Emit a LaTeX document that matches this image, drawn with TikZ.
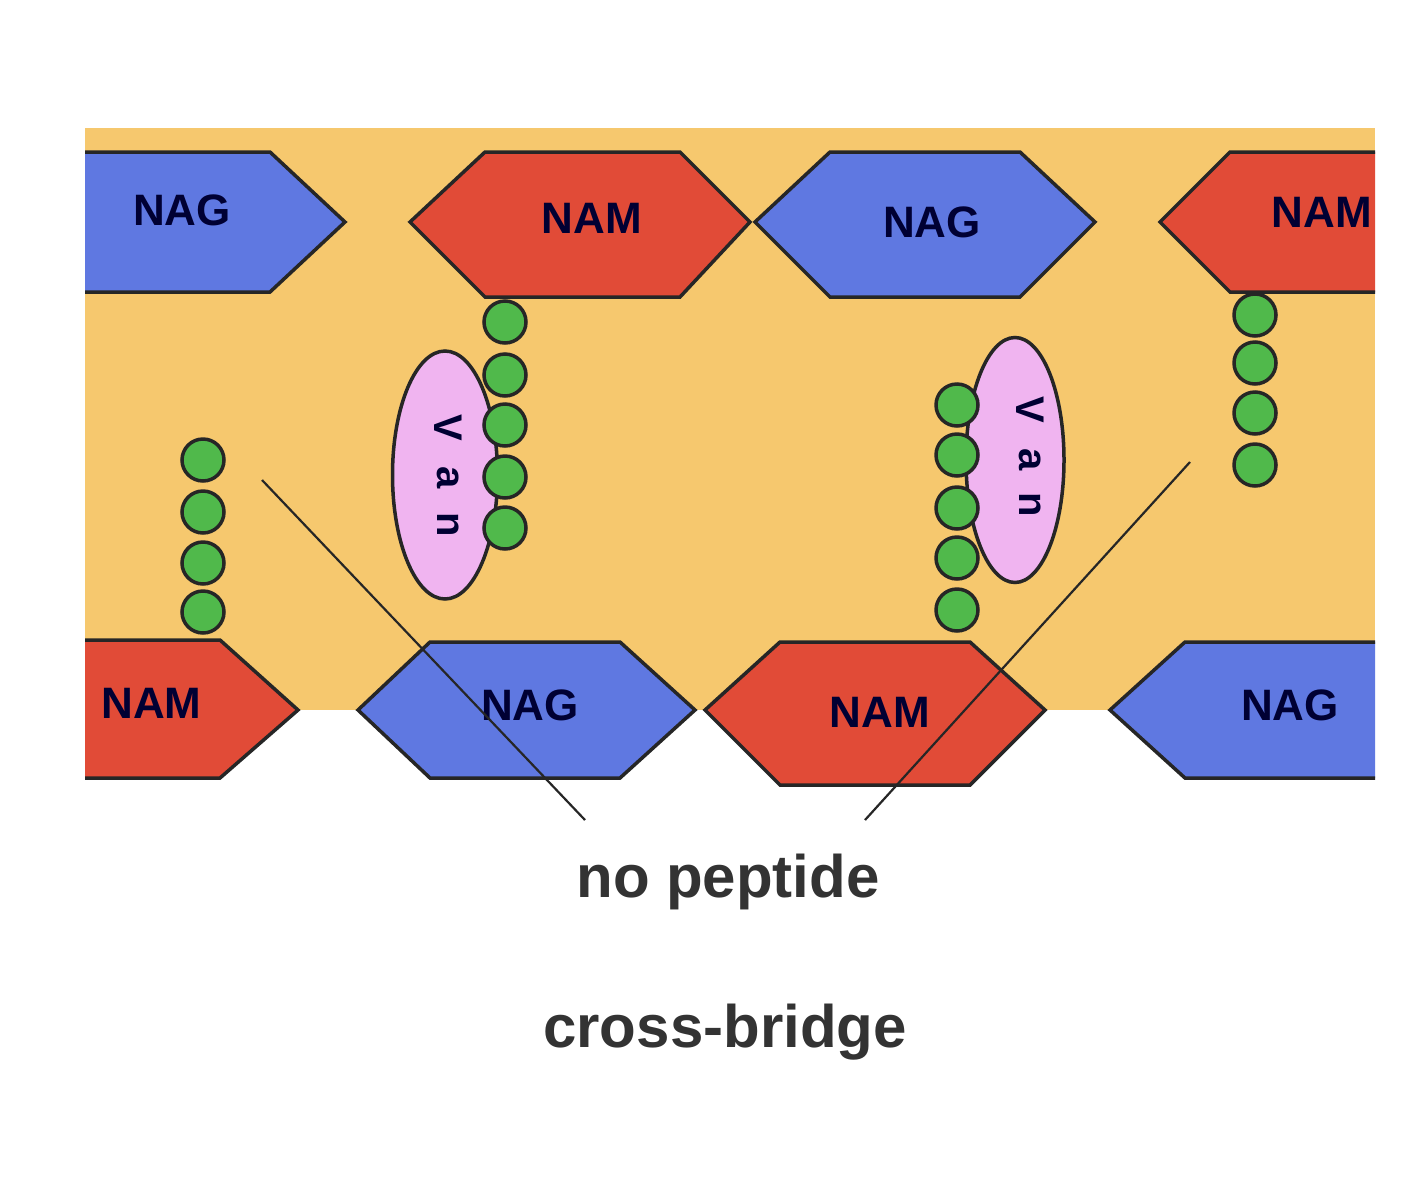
\documentclass[tikz,border=0pt]{standalone}
\usepackage{fontspec}
\usetikzlibrary{shapes.geometric}
\setmainfont{Liberation Sans}
\begin{document}
\begin{tikzpicture}[x=1pt,y=-1pt,
  hexb/.style={draw=black!85, line width=3.5pt},
  hexr/.style={draw=black!85, line width=3.5pt},
  lab/.style={font=\bfseries\fontsize{44}{50}\selectfont, text=black!80!blue},
  bead/.style={circle, draw=black!85, line width=3.5pt, minimum size=42pt, inner sep=0pt},
  van/.style={ellipse, draw=black!85, line width=3.5pt},
  big/.style={font=\bfseries\fontsize{60}{70}\selectfont, text=black!80}]
\useasboundingbox (0,0) rectangle (1405,1200);
\definecolor{nagc}{RGB}{95,120,225}
\definecolor{namc}{RGB}{225,75,55}
\definecolor{bgc}{RGB}{246,200,110}
\definecolor{vanc}{RGB}{240,180,240}
\definecolor{beadc}{RGB}{80,185,75}
\fill[bgc] (85,128) rectangle (1375,710);
\begin{scope}
\clip (85,100) rectangle (1375,800);
\draw[hexb,fill=nagc] (40,152)--(270,152)--(345,222)--(270,292)--(40,292)--cycle;
\draw[hexr,fill=namc] (410,222)--(485,152)--(680,152)--(750,222)--(680,297)--(485,297)--cycle;
\draw[hexb,fill=nagc] (755,222)--(830,152)--(1020,152)--(1095,222)--(1020,297)--(830,297)--cycle;
\draw[hexr,fill=namc] (1160,222)--(1230,152)--(1420,152)--(1420,292)--(1230,292)--cycle;
\draw[hexr,fill=namc] (40,640)--(220,640)--(298,710)--(220,778)--(40,778)--cycle;
\draw[hexb,fill=nagc] (358,710)--(430,642)--(620,642)--(695,710)--(620,778)--(430,778)--cycle;
\draw[hexr,fill=namc] (705,710)--(780,642)--(970,642)--(1045,710)--(970,785)--(780,785)--cycle;
\draw[hexb,fill=nagc] (1110,710)--(1185,642)--(1420,642)--(1420,778)--(1185,778)--cycle;
\node[lab] (t1) at (182,210) {NAG};
\node[lab] (t2) at (592,218) {NAM};
\node[lab] (t3) at (932,222) {NAG};
\node[lab,anchor=west] (t4) at (1268,212) {NAM};
\node[lab,anchor=east] (b1) at (205,703) {NAM};
\node[lab] (b2) at (530,705) {NAG};
\node[lab] (b3) at (880,712) {NAM};
\node[lab] (b4) at (1290,705) {NAG};
\end{scope}
\node[van,fill=vanc,minimum width=105pt,minimum height=248pt] (v1) at (445,475) {};
\node[van,fill=vanc,minimum width=98pt,minimum height=245pt] (v2) at (1015,460) {};
\foreach \l/\yy in {V/428,a/478,n/525}{\node[lab,font=\bfseries\fontsize{40}{44}\selectfont,rotate=-90] at (448,\yy) {\l};}
\foreach \l/\yy in {V/410,a/460,n/505}{\node[lab,font=\bfseries\fontsize{40}{44}\selectfont,rotate=-90] at (1030,\yy) {\l};}
\foreach \yy in {460,512,563,612}{\node[bead,fill=beadc] at (203,\yy) {};}
\foreach \yy in {322,375,425,477,528}{\node[bead,fill=beadc] at (505,\yy) {};}
\foreach \yy in {405,455,508,558,610}{\node[bead,fill=beadc] at (957,\yy) {};}
\foreach \yy in {315,363,413,465}{\node[bead,fill=beadc] at (1255,\yy) {};}
\coordinate (l1a) at (262,480); \coordinate (l1b) at (585,820);
\coordinate (l2a) at (1190,462); \coordinate (l2b) at (865,820);
\draw[line width=2.2pt, black!85] (l1a)--(l1b);
\draw[line width=2.2pt, black!85] (l2a)--(l2b);
\node[big] (np) at (728,882) {no peptide};
\node[big] (cb) at (725,1032) {cross-bridge};
\end{tikzpicture}
\end{document}
